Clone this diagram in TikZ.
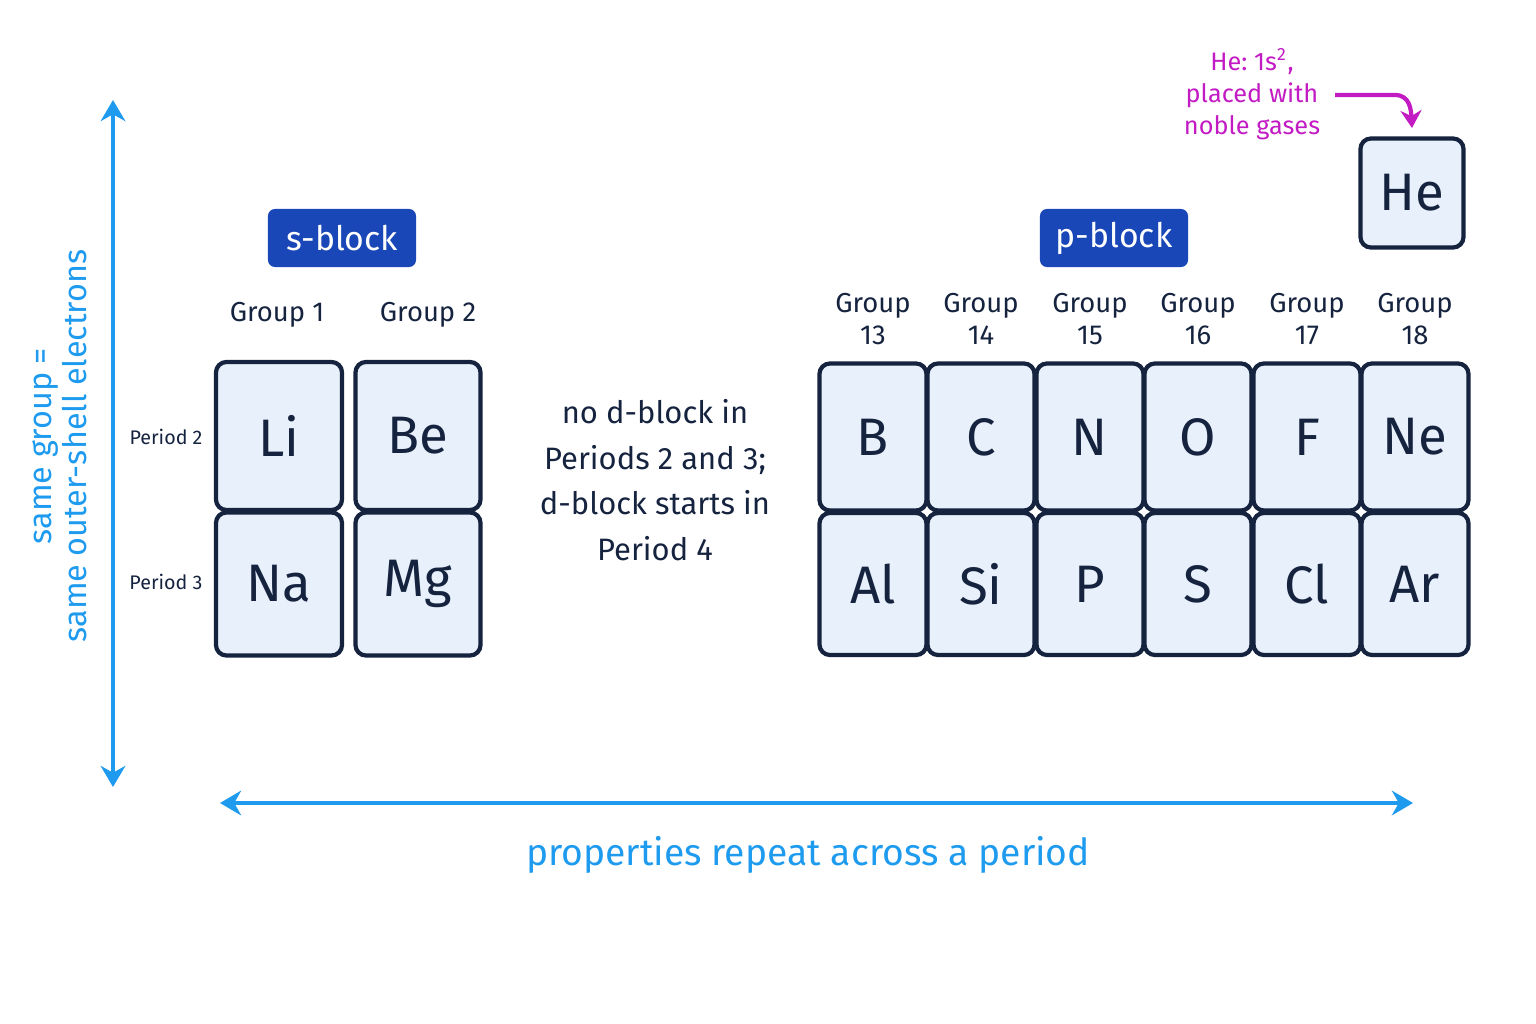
\documentclass[tikz,border=0pt]{standalone}
\usepackage{fontspec}
\setmainfont{Fira Sans}
\usetikzlibrary{arrows.meta,positioning}
\definecolor{cellfill}{HTML}{E8F0FB}
\definecolor{cellline}{HTML}{15233F}
\definecolor{blockblue}{HTML}{1A47B8}
\definecolor{axisblue}{HTML}{1E9BEF}
\definecolor{heMag}{HTML}{C21BC4}
\tikzset{
  elem/.style={draw=cellline, line width=1.2pt, fill=cellfill, rounded corners=3pt,
    inner sep=0pt, font=\fontsize{15}{18}\selectfont, text=cellline},
  blocklbl/.style={fill=blockblue, rounded corners=2pt, text=white, inner sep=0pt,
    minimum width=1.48cm, minimum height=0.58cm, font=\fontsize{9.6}{12}\selectfont},
  grp/.style={align=center, font=\fontsize{7.8}{9.3}\selectfont, text=cellline},
  axis/.style={axisblue, line width=1.4pt, {Stealth[length=6pt,width=7pt]}-{Stealth[length=6pt,width=7pt]}}
}
\begin{document}
\begin{tikzpicture}[x=0.01cm,y=-0.01cm]
  \useasboundingbox (0,0) rectangle (1536,1024);
  % s-block
  \node[blocklbl] (sblock) at (342,238) {s-block};
  \node[grp] (g1) at (277,315) {Group 1};
  \node[grp] (g2) at (428,315) {Group 2};
  \node[elem, minimum width=1.26cm, minimum height=1.48cm] (Li) at (279,436) {Li};
  \node[elem, minimum width=1.25cm, minimum height=1.48cm] (Be) at (418,436) {Be};
  \node[elem, minimum width=1.26cm, minimum height=1.43cm] (Na) at (279,584) {Na};
  \node[elem, minimum width=1.25cm, minimum height=1.43cm] (Mg) at (418,584) {Mg};
  \node[font=\fontsize{5.6}{7}\selectfont, text=cellline] (p2) at (166,437) {Period 2};
  \node[font=\fontsize{5.6}{7}\selectfont, text=cellline] (p3) at (166,582) {Period 3};
  % middle note
  \node[align=center, font=\fontsize{8.8}{13}\selectfont, text=cellline] (note) at (655,480)
    {no d-block in\\Periods 2 and 3;\\d-block starts in\\Period 4};
  % p-block
  \node[blocklbl] (pblock) at (1114,238) {p-block};
  \foreach \g/\x/\a/\b in {13/873/B/Al,14/981/C/Si,15/1090/N/P,16/1198/O/S,17/1307/F/Cl,18/1415/Ne/Ar}{
    \node[grp] (grp\g) at (\x,319) {Group\\\g};
    \node[elem, minimum width=1.07cm, minimum height=1.47cm] (top\g) at (\x,437) {\a};
    \node[elem, minimum width=1.07cm, minimum height=1.42cm] (bot\g) at (\x,584) {\b};
  }
  \node[elem, minimum width=1.03cm, minimum height=1.09cm] (He) at (1412,193) {He};
  % helium note
  \node[align=center, text=heMag, font=\fontsize{7.2}{9}\selectfont] (henote) at (1252,94)
    {He:\ 1s\textsuperscript{2},\\placed with\\noble gases};
  \coordinate (hestart) at (1335,95);
  \draw[heMag, line width=1.2pt, -{Stealth[length=5pt,width=6pt]}] (hestart) -- (1395,95)
    .. controls (1410,95) and (1411,110) .. (He.north |- 0,128);
  % axes
  \coordinate (vtop) at (113,100);
  \coordinate (vbot) at (113,787);
  \draw[axis] (vtop) -- (vbot);
  \node[rotate=90, align=center, text=axisblue, font=\fontsize{9.2}{10}\selectfont] (vlabel) at (60,446)
    {same group =\\same outer-shell electrons};
  \coordinate (hleft) at (220,803);
  \coordinate (hright) at (1413,803);
  \draw[axis] (hleft) -- (hright);
  \node[text=axisblue, font=\fontsize{10.6}{12}\selectfont] (hlabel) at (808,855)
    {properties repeat across a period};
\end{tikzpicture}
\end{document}
